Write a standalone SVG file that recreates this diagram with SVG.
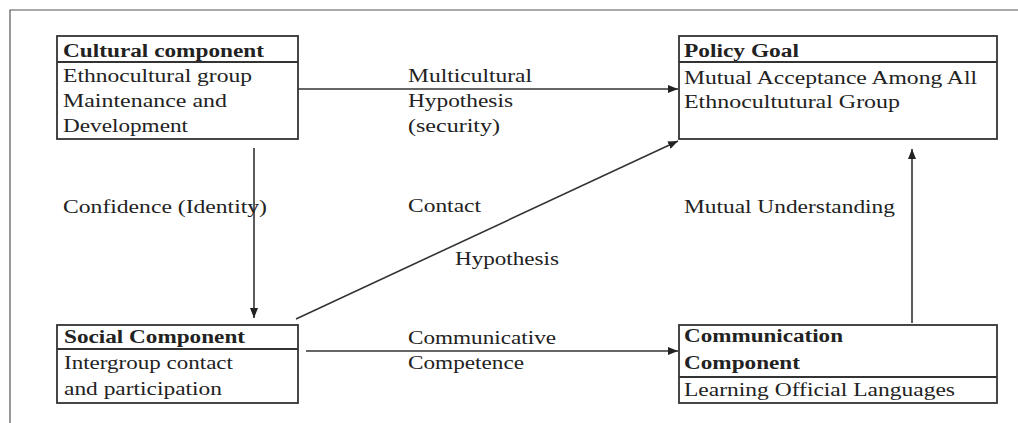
<svg xmlns="http://www.w3.org/2000/svg" width="1018" height="423" viewBox="0 0 1018 423">
  <style>
    .frame { fill: none; stroke: #555; stroke-width: 1.2; }
    .box { fill: #fff; stroke: #333; stroke-width: 1.8; }
    .div { stroke: #333; stroke-width: 2; }
    .edge { fill: none; stroke: #333; stroke-width: 1.6; }
    text { font-family: "Liberation Serif", "Times New Roman", serif; font-size: 18px; fill: #222; }
    .hd { font-weight: bold; }
  </style>
  <defs>
    <marker id="arrow" viewBox="0 0 10 8" refX="10" refY="4" markerWidth="10" markerHeight="8" markerUnits="userSpaceOnUse" orient="auto">
      <path d="M0,0 L10,4 L0,8 Z" fill="#222"/>
    </marker>
  </defs>
  <rect width="1018" height="423" fill="#fff"/>

  <!-- outer page frame (top and left rules only) -->
  <path class="frame" d="M1018,10 H10 V423"/>

  <!-- connectors -->
  <g id="connectors">
    <line class="edge" x1="298" y1="89" x2="678" y2="89" marker-end="url(#arrow)"/>
    <line class="edge" x1="254" y1="148" x2="254" y2="318" marker-end="url(#arrow)"/>
    <line class="edge" x1="296" y1="319" x2="678" y2="141" marker-end="url(#arrow)"/>
    <line class="edge" x1="306" y1="351" x2="678" y2="351" marker-end="url(#arrow)"/>
    <line class="edge" x1="912" y1="323" x2="912" y2="149" marker-end="url(#arrow)"/>
  </g>

  <!-- connector labels -->
  <g id="labels">
    <text x="408" y="82" textLength="124" lengthAdjust="spacingAndGlyphs">Multicultural</text>
    <text x="408" y="107" textLength="105" lengthAdjust="spacingAndGlyphs">Hypothesis</text>
    <text x="408" y="132" textLength="92" lengthAdjust="spacingAndGlyphs">(security)</text>
    <text x="63" y="213" textLength="204" lengthAdjust="spacingAndGlyphs">Confidence (Identity)</text>
    <text x="408" y="212" textLength="73" lengthAdjust="spacingAndGlyphs">Contact</text>
    <text x="455" y="265" textLength="104" lengthAdjust="spacingAndGlyphs">Hypothesis</text>
    <text x="684" y="213" textLength="211" lengthAdjust="spacingAndGlyphs">Mutual Understanding</text>
    <text x="408" y="344" textLength="148" lengthAdjust="spacingAndGlyphs">Communicative</text>
    <text x="408" y="369" textLength="116" lengthAdjust="spacingAndGlyphs">Competence</text>
  </g>

  <g id="cultural">
    <rect class="box" x="57" y="36" width="241" height="103"/>
    <line class="div" x1="57" y1="62" x2="298" y2="62"/>
    <text class="hd" x="63" y="57" textLength="201" lengthAdjust="spacingAndGlyphs">Cultural component</text>
    <text x="63" y="82" textLength="189" lengthAdjust="spacingAndGlyphs">Ethnocultural group</text>
    <text x="63" y="107" textLength="164" lengthAdjust="spacingAndGlyphs">Maintenance and</text>
    <text x="63" y="132" textLength="125" lengthAdjust="spacingAndGlyphs">Development</text>
  </g>

  <g id="policy">
    <rect class="box" x="679" y="36" width="318" height="103"/>
    <line class="div" x1="679" y1="62" x2="997" y2="62"/>
    <text class="hd" x="684" y="57" textLength="115" lengthAdjust="spacingAndGlyphs">Policy Goal</text>
    <text x="684" y="84" textLength="293" lengthAdjust="spacingAndGlyphs">Mutual Acceptance Among All</text>
    <text x="684" y="108" textLength="216" lengthAdjust="spacingAndGlyphs">Ethnocultutural Group</text>
  </g>

  <g id="social">
    <rect class="box" x="57" y="325" width="241" height="78"/>
    <line class="div" x1="57" y1="349" x2="298" y2="349"/>
    <text class="hd" x="64" y="343" textLength="181" lengthAdjust="spacingAndGlyphs">Social Component</text>
    <text x="64" y="369" textLength="169" lengthAdjust="spacingAndGlyphs">Intergroup contact</text>
    <text x="64" y="395" textLength="158" lengthAdjust="spacingAndGlyphs">and participation</text>
  </g>

  <g id="communication">
    <rect class="box" x="679" y="325" width="318" height="78"/>
    <line class="div" x1="679" y1="377" x2="997" y2="377"/>
    <text class="hd" x="684" y="342" textLength="159" lengthAdjust="spacingAndGlyphs">Communication</text>
    <text class="hd" x="684" y="369" textLength="116" lengthAdjust="spacingAndGlyphs">Component</text>
    <text x="684" y="396" textLength="271" lengthAdjust="spacingAndGlyphs">Learning Official Languages</text>
  </g>
</svg>
